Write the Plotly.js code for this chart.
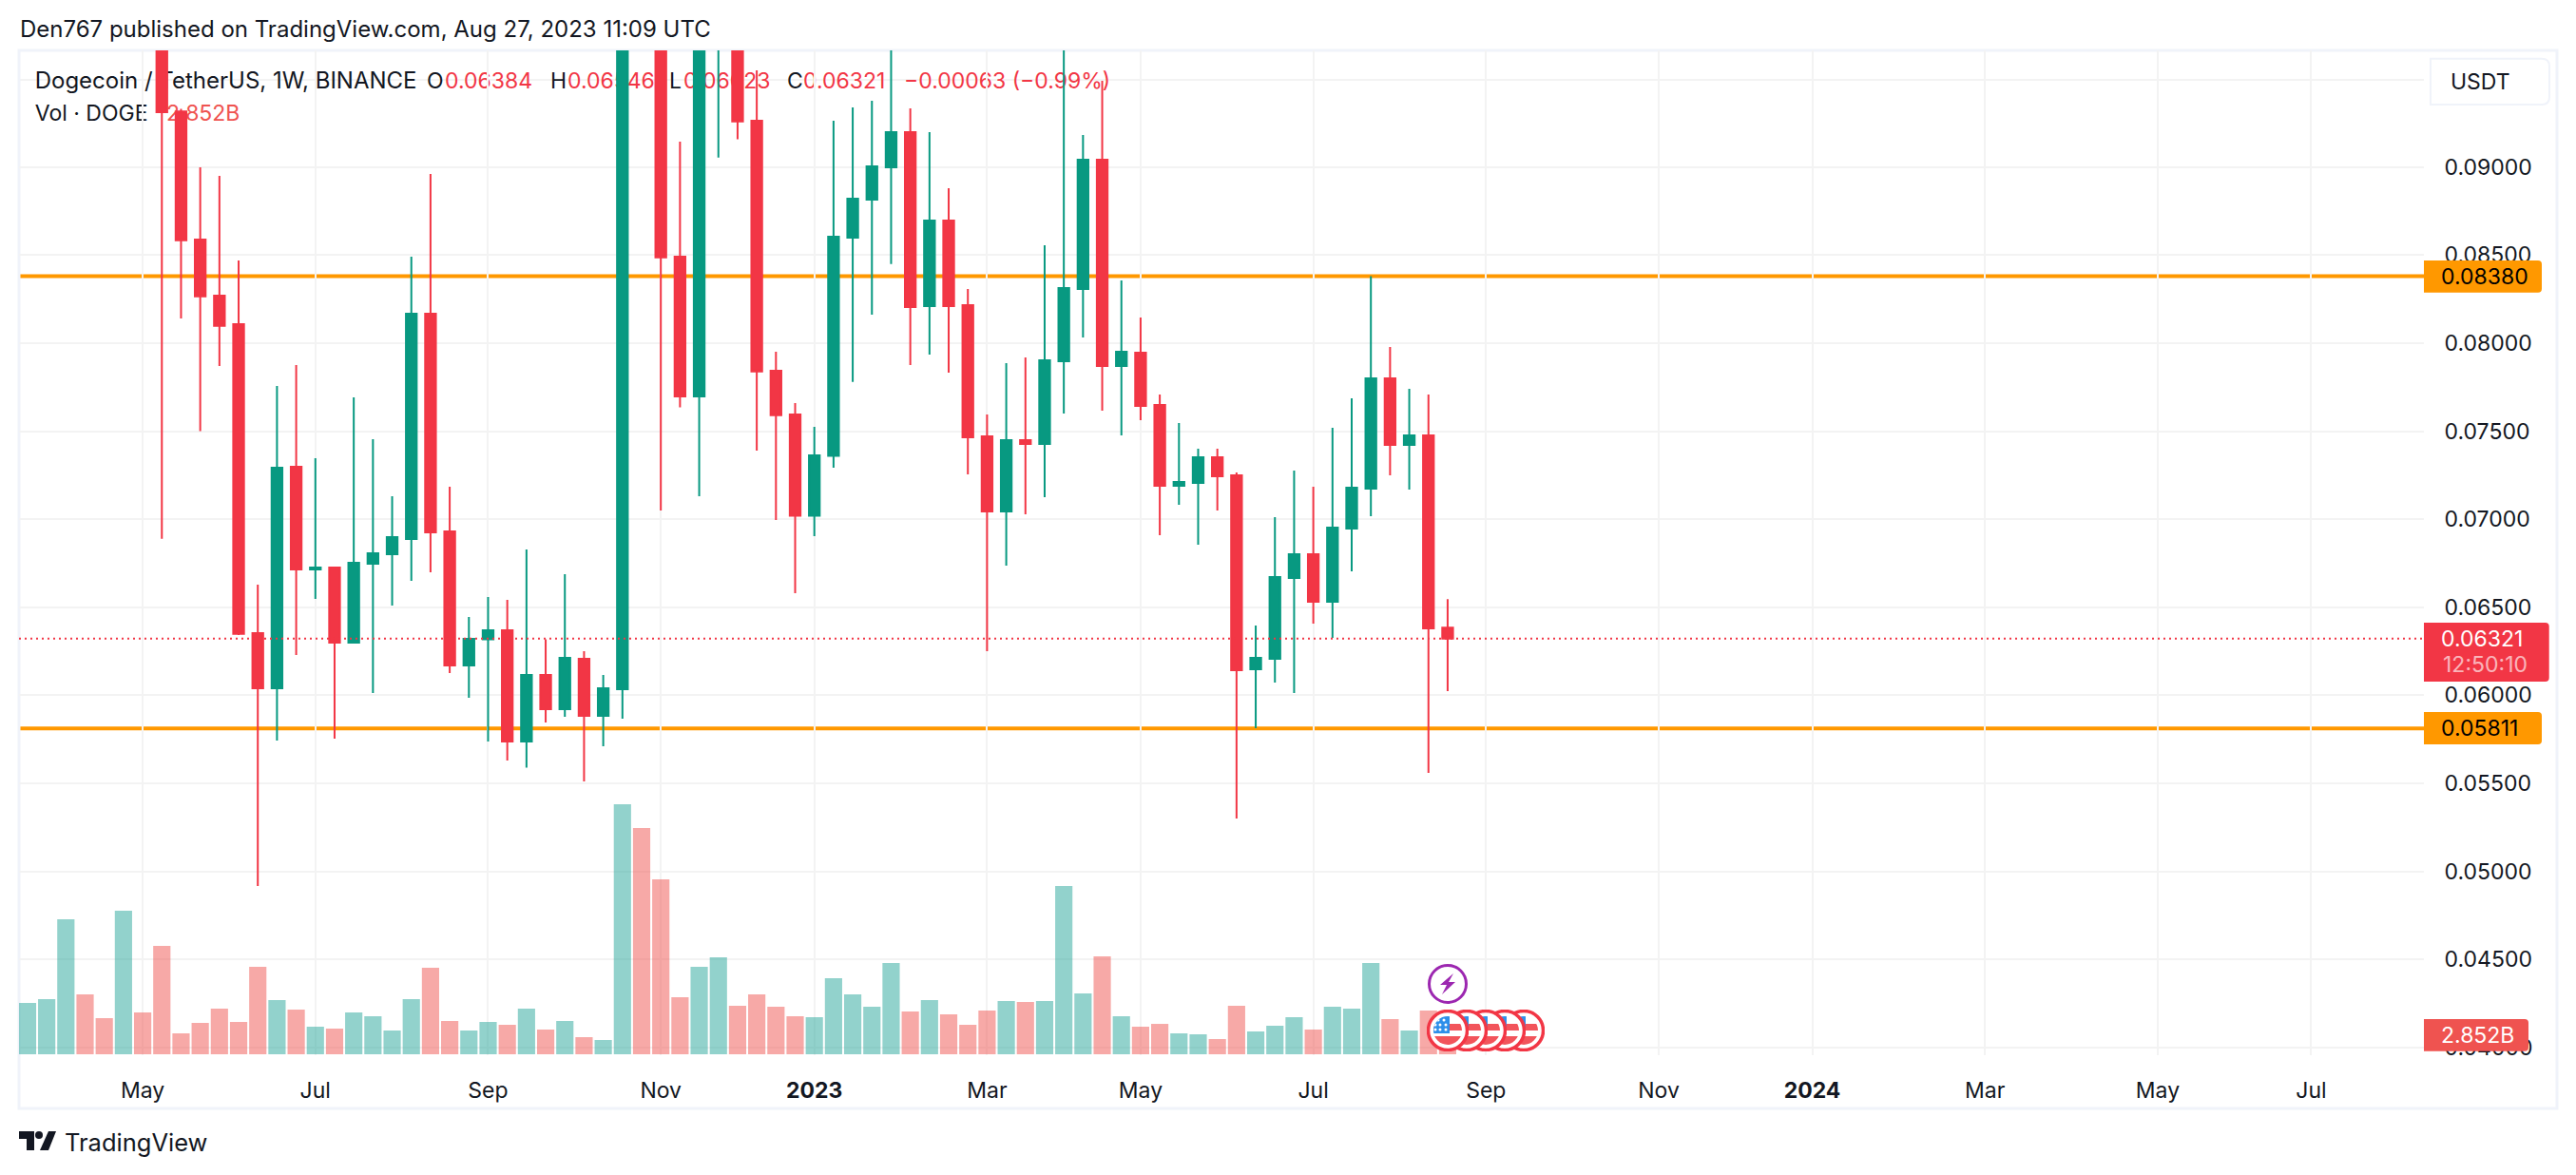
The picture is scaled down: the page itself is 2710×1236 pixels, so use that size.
<!DOCTYPE html>
<html>
<head>
<meta charset="utf-8">
<title>Dogecoin / TetherUS, 1W</title>
<script src="https://cdn.plot.ly/plotly-3.0.1.min.js"></script>
<style>
  html, body { margin: 0; padding: 0; background: #fff; overflow: hidden; }
  #legendText { position: absolute; left: 0; top: 0; z-index: 0; font-family: Inter, sans-serif; font-size: 23px; color: #131722; white-space: pre; }
  #legendText span { position: absolute; line-height: 30px; }
  /* top gridline runs behind the legend text, so it can't come from the chart on top */
  #topGrid { position: absolute; left: 20px; top: 83px; width: 2530px; height: 2px; background: #F3F3F3; }
  #myDiv { position: absolute; left: 0; top: 0; width: 2710px; height: 1236px; z-index: 1; }
</style>
</head>
<body>
<!-- sits behind the transparent chart, the candles cover it as on the original -->
<div id="legendText"><div id="topGrid"></div></div>
<div id="myDiv"></div>
<script>
// weekly bars
var dates = [
  '2022-03-21','2022-03-28','2022-04-04','2022-04-11','2022-04-18','2022-04-25','2022-05-02','2022-05-09','2022-05-16','2022-05-23',
  '2022-05-30','2022-06-06','2022-06-13','2022-06-20','2022-06-27','2022-07-04','2022-07-11','2022-07-18','2022-07-25','2022-08-01',
  '2022-08-08','2022-08-15','2022-08-22','2022-08-29','2022-09-05','2022-09-12','2022-09-19','2022-09-26','2022-10-03','2022-10-10',
  '2022-10-17','2022-10-24','2022-10-31','2022-11-07','2022-11-14','2022-11-21','2022-11-28','2022-12-05','2022-12-12','2022-12-19',
  '2022-12-26','2023-01-02','2023-01-09','2023-01-16','2023-01-23','2023-01-30','2023-02-06','2023-02-13','2023-02-20','2023-02-27',
  '2023-03-06','2023-03-13','2023-03-20','2023-03-27','2023-04-03','2023-04-10','2023-04-17','2023-04-24','2023-05-01','2023-05-08',
  '2023-05-15','2023-05-22','2023-05-29','2023-06-05','2023-06-12','2023-06-19','2023-06-26','2023-07-03','2023-07-10','2023-07-17',
  '2023-07-24','2023-07-31','2023-08-07','2023-08-14','2023-08-21'
];
var opens = [
  .1290,.1430,.1450,.1500,.1370,.1320,.1350,.1280,.09316,.08588,
  .0827,.08108,.06353,.06039,.07298,.06714,.06725,.06299,.06747,.06801,
  .06887,.08167,.0693,.06169,.06317,.06369,.05737,.06115,.05921,.06207,
  .05883,.06034,.1180,.1080,.08491,.07697,.0985,.1030,.09263,.07843,
  .07595,.07019,.07359,.08599,.08815,.08999,.09198,.0821,.08696,.08216,
  .0747,.07044,.07449,.07427,.07897,.08307,.09042,.0787,.07946,.07649,
  .0719,.07206,.07352,.07249,.06147,.06207,.06666,.06801,.06531,.06947,
  .07173,.078,.07422,.07476,.06384
];
var highs = [
  .1480,.1520,.1700,.1570,.1420,.1720,.1440,.1330,.0933,.08999,
  .0895,.08469,.06628,.07757,.07875,.07346,.06725,.07692,.07454,.0713,
  .08491,.08961,.07184,.06444,.06558,.06542,.06828,.06317,.06687,.0625,
  .06115,.1460,.1560,.1120,.09144,.1040,.1080,.1060,.09549,.07951,
  .07659,.07524,.09263,.09339,.09377,.0972,.09333,.09198,.0888,.08307,
  .07595,.07886,.07919,.08556,.0972,.09182,.0949,.08356,.08145,.07708,
  .07546,.074,.074,.07265,.06396,.07011,.07276,.07184,.07519,.07686,
  .0838,.07978,.0774,.07708,.06546
];
var lows = [
  .1270,.1380,.1340,.1340,.1200,.1260,.1190,.06888,.0814,.075,
  .0787,.06342,.04916,.05742,.06228,.06547,.05753,.06299,.06012,.06509,
  .0665,.06698,.06126,.05985,.05737,.05629,.05588,.05845,.05877,.0551,
  .0571,.05867,.1010,.07049,.07635,.0713,.09054,.09157,.07389,.06995,
  .06579,.06903,.07292,.0778,.08162,.08449,.07875,.07935,.07832,.07254,
  .0625,.06736,.07028,.07125,.076,.08032,.07616,.07476,.07562,.06909,
  .07082,.06855,.07049,.053,.05813,.06072,.06012,.06407,.06326,.06704,
  .07017,.07249,.07168,.05559,.06023
];
var closes = [
  .1430,.1450,.1500,.1370,.1320,.1350,.1280,.09312,.08584,.08266,
  .08098,.06348,.06039,.07292,.06714,.06725,.06299,.06752,.06806,.06898,
  .08167,.06925,.06169,.0632,.06369,.05737,.06115,.05921,.06212,.05883,
  .06039,.1180,.1080,.08487,.07697,.0985,.1030,.09259,.07839,.0759,
  .07019,.07362,.08604,.0882,.09004,.09198,.08205,.08696,.0821,.07465,
  .07044,.07449,.07427,.07902,.08313,.09042,.0787,.07951,.07643,.0719,
  .07211,.07352,.07244,.06142,.06212,.06671,.06801,.06531,.06952,.07179,
  .078,.07422,.07476,.0638,.06321
];
// volume in billions
var volumes = [
  7.70,8.27,20.26,8.99,5.42,21.54,6.28,16.26,3.14,4.71,
  6.85,4.85,13.12,8.13,6.70,4.14,3.85,6.28,5.71,3.57,
  8.27,12.98,4.99,3.57,4.85,4.42,6.85,3.71,4.99,2.57,
  2.14,37.52,33.95,26.25,8.56,13.12,14.55,7.28,8.99,7.13,
  5.71,5.56,11.41,8.99,7.13,13.69,6.42,8.13,5.99,4.42,
  6.56,7.99,7.85,7.99,25.25,9.13,14.69,5.71,4.14,4.56,
  3.14,3.00,2.28,7.28,3.42,4.28,5.56,3.71,7.13,6.85,
  13.69,5.28,3.57,6.56,2.852
];

var priceTicks = [0.04, 0.045, 0.05, 0.055, 0.06, 0.065, 0.07, 0.075, 0.08, 0.085, 0.09];
var priceLabels = ['0.04000','0.04500','0.05000','0.05500','0.06000','0.06500','0.07000','0.07500','0.08000','0.08500','0.09000'];
var timeTicks = ['2022-05-02','2022-07-04','2022-09-05','2022-11-07','2023-01-02','2023-03-06','2023-05-01','2023-07-03','2023-09-04','2023-11-06','2024-01-01','2024-03-04','2024-05-06','2024-07-01'];
var timeLabels = ['May','Jul','Sep','Nov','<b>2023</b>','Mar','May','Jul','Sep','Nov','<b>2024</b>','Mar','May','Jul'];
var levels = [0.0838, 0.05811];
var levelLabels = ['0.08380', '0.05811'];
var lastPrice = 0.06321;

var UP = '#089981', DOWN = '#F23645', ORANGE = '#FF9800', INK = '#131722', FRAME = '#F0F3FA';

// chart pane in page pixels
var paneL = 20, paneR = 2550, paneT = 53, paneB = 1110;
function px(x) { return (x - paneL) / (paneR - paneL); }
function py(y) { return (paneB - y) / (paneB - paneT); }

// legend text behind the chart
var legendBits = [
  [36.7, 70, 'Dogecoin / TetherUS, 1W, BINANCE', INK, 24],
  [449, 70, 'O', INK], [468, 70, '0.06384', DOWN],
  [579, 70, 'H', INK], [597, 70, '0.06546', DOWN],
  [704, 70, 'L', INK], [719, 70, '0.06023', DOWN],
  [828, 70, 'C', INK], [845, 70, '0.06321', DOWN],
  [951, 70, '\u22120.00063 (\u22120.99%)', DOWN],
  [36.7, 104, 'Vol \u00b7 DOGE', INK], [175, 104, '2.852B', '#EF5350']
];
legendBits.forEach(function(b) {
  var s = document.createElement('span');
  s.style.left = b[0] + 'px';
  s.style.top = b[1] + 'px';
  s.style.color = b[3];
  if (b[4]) s.style.fontSize = b[4] + 'px';
  s.textContent = b[2];
  document.getElementById('legendText').appendChild(s);
});

var volColors = closes.map(function(c, i) {
  return c >= opens[i] ? 'rgba(38,166,154,0.5)' : 'rgba(239,83,80,0.5)';
});

var candles = {
  type: 'candlestick',
  x: dates, open: opens, high: highs, low: lows, close: closes,
  xaxis: 'x', yaxis: 'y',
  increasing: {line: {color: UP, width: 2}, fillcolor: UP},
  decreasing: {line: {color: DOWN, width: 2}, fillcolor: DOWN},
  hoverinfo: 'skip'
};
var volume = {
  type: 'bar',
  x: dates, y: volumes,
  xaxis: 'x', yaxis: 'y2',
  marker: {color: volColors, line: {width: 0}},
  hoverinfo: 'skip'
};

// level lines and the axis price tags
var shapes = [];
levels.forEach(function(v) {
  shapes.push({type: 'line', layer: 'below', xref: 'paper', yref: 'y', x0: 0, x1: 1, y0: v, y1: v, line: {color: ORANGE, width: 4}});
});
shapes.push({type: 'line', layer: 'above', xref: 'paper', yref: 'y', x0: 0, x1: 1, y0: lastPrice, y1: lastPrice, line: {color: DOWN, width: 2, dash: '2px,4px'}});

function tagPath(x0, x1, y0, y1, r) {
  var a = px(x0), b = px(x1), rx = r / (paneR - paneL), ry = r / (paneB - paneT), t = py(y0), u = py(y1);
  return 'M' + a + ',' + t + ' L' + (b - rx) + ',' + t + ' Q' + b + ',' + t + ' ' + b + ',' + (t - ry) +
    ' L' + b + ',' + (u + ry) + ' Q' + b + ',' + u + ' ' + (b - rx) + ',' + u + ' L' + a + ',' + u + ' Z';
}
function tag(x1, y0, y1, color) {
  shapes.push({type: 'path', layer: 'above', xref: 'paper', yref: 'paper', path: tagPath(paneR, x1, y0, y1, 4), fillcolor: color, line: {width: 0}});
}
tag(2674, 274, 307.7, ORANGE);
tag(2674, 749, 783, ORANGE);
tag(2681.7, 655, 717, DOWN);
tag(2660, 1072, 1105.7, '#EF5350');

// outer frame
shapes.push({type: 'rect', layer: 'below', xref: 'paper', yref: 'paper', x0: px(20), x1: px(2690), y0: py(1166), y1: py(53), line: {color: FRAME, width: 3}});
// currency button
shapes.push({type: 'path', layer: 'above', xref: 'paper', yref: 'paper', path: tagPath(2557, 2682, 61.7, 110, 8), fillcolor: '#fff', line: {color: FRAME, width: 2}});

function label(x, y, text, color, size, anchor) {
  return {xref: 'paper', yref: 'paper', x: px(x), y: py(y), text: text, showarrow: false, xanchor: anchor || 'left', yanchor: 'middle',
    font: {family: 'Inter, sans-serif', size: size || 23, color: color || INK}, borderpad: 0};
}
var annotations = [
  label(20, 31, 'Den767 published on TradingView.com, Aug 27, 2023 11:09 UTC', INK, 24),
  label(2576.7, 86, 'USDT'),
  label(2566.7, 291, levelLabels[0], '#000'),
  label(2566.7, 766, levelLabels[1], '#000'),
  label(2566.7, 672, '0.06321', '#fff'),
  label(2568.7, 699, '12:50:10', 'rgba(255,255,255,0.65)'),
  label(2566.7, 1089, '2.852B', '#fff'),
  label(67, 1201, 'TradingView', INK, 25.5)
];

// event icons and logo
function svgUri(inner, w, h) {
  return 'data:image/svg+xml;utf8,' + encodeURIComponent('<svg xmlns="http://www.w3.org/2000/svg" width="' + w + '" height="' + h + '" viewBox="0 0 ' + w + ' ' + h + '">' + inner + '</svg>');
}
var flagSvg = svgUri(
  '<clipPath id="c"><circle cx="22" cy="22" r="15"/></clipPath>' +
  '<circle cx="22" cy="22" r="20.5" fill="#fff" stroke="#F23645" stroke-width="3.5"/>' +
  '<g clip-path="url(#c)">' +
  '<rect x="0" y="7" width="44" height="7" fill="#fff"/>' +
  '<rect x="0" y="15" width="44" height="7" fill="#F2545B"/>' +
  '<rect x="0" y="28" width="44" height="10" fill="#F2545B"/>' +
  '<rect x="6" y="7" width="18" height="18" fill="#2E8FEA"/>' +
  '<g fill="#fff"><circle cx="12" cy="11" r="1.5"/><circle cx="18" cy="11" r="1.5"/><circle cx="9" cy="16" r="1.5"/><circle cx="14" cy="16" r="1.5"/><circle cx="20" cy="16" r="1.5"/><circle cx="9" cy="21" r="1.5"/><circle cx="14" cy="21" r="1.5"/><circle cx="20" cy="21" r="1.5"/></g>' +
  '</g>', 44, 44);
var boltSvg = svgUri(
  '<circle cx="21" cy="21" r="19.5" fill="#fff" stroke="#9C27B0" stroke-width="3"/>' +
  '<path d="M27 10 L13 22 L20 22 L15 32 L29 19 L22 19 Z" fill="#9C27B0"/>', 42, 42);
var logoSvg = svgUri(
  '<path d="M0 0 H16 V20 H8 V8 H0 Z" fill="#131722"/><circle cx="21" cy="4" r="4" fill="#131722"/><path d="M31 0 H39 L31 20 H22 Z" fill="#131722"/>', 39, 20);

function icon(src, cx, cy, w, h) {
  return {source: src, xref: 'paper', yref: 'paper', x: px(cx - w / 2), y: py(cy - h / 2),
    sizex: w / (paneR - paneL), sizey: h / (paneB - paneT), xanchor: 'left', yanchor: 'top', sizing: 'stretch', layer: 'above'};
}
var images = [
  icon(flagSvg, 1603, 1084, 44, 44),
  icon(flagSvg, 1583, 1084, 44, 44),
  icon(flagSvg, 1563, 1084, 44, 44),
  icon(flagSvg, 1543, 1084, 44, 44),
  icon(flagSvg, 1523, 1084, 44, 44),
  icon(boltSvg, 1523, 1035, 42, 42),
  icon(logoSvg, 39.5, 1200, 39, 20)
];

var layout = {
  width: 2710, height: 1236,
  margin: {l: paneL, r: 2710 - paneR, t: paneT, b: 1236 - paneB},
  paper_bgcolor: 'rgba(0,0,0,0)', plot_bgcolor: 'rgba(0,0,0,0)',
  showlegend: false,
  boxgap: 0.2,
  bargap: 0.1,
  xaxis: {
    type: 'date', range: ['2022-03-17 21:36', '2024-08-11 02:24'], fixedrange: true,
    rangeslider: {visible: false},
    tickmode: 'array', tickvals: timeTicks, ticktext: timeLabels,
    ticks: 'outside', ticklen: 16, tickcolor: 'rgba(0,0,0,0)',
    tickfont: {family: 'Inter, sans-serif', size: 23, color: INK},
    showgrid: true, gridcolor: '#F3F3F3', gridwidth: 2, zeroline: false, showline: false
  },
  yaxis: {
    side: 'right', range: [0.039552, 0.096625], fixedrange: true,
    tickmode: 'array', tickvals: priceTicks, ticktext: priceLabels,
    ticks: 'outside', ticklen: 16, tickcolor: 'rgba(0,0,0,0)',
    tickfont: {family: 'Inter, sans-serif', size: 23, color: INK},
    showgrid: true, gridcolor: '#F3F3F3', gridwidth: 2, zeroline: false, showline: false
  },
  yaxis2: {
    overlaying: 'y', side: 'left', range: [-0.143, 150.64], fixedrange: true,
    showgrid: false, showticklabels: false, ticks: '', zeroline: false, showline: false
  },
  shapes: shapes,
  annotations: annotations,
  images: images
};

Plotly.newPlot('myDiv', [volume, candles], layout, {displayModeBar: false, responsive: false});
</script>
</body>
</html>
